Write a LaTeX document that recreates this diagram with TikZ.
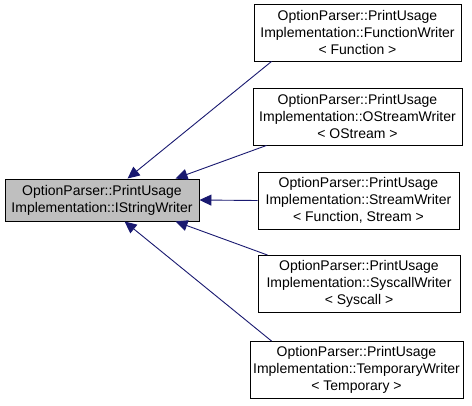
\documentclass[tikz,border=0pt]{standalone}
\usepackage{fontspec}
\setmainfont{Liberation Sans}
\usetikzlibrary{arrows.meta}
\definecolor{mblue}{RGB}{25,25,112}
\definecolor{basegray}{RGB}{191,191,191}
\tikzset{
  cls/.style = {rectangle, draw=black, fill=white, text=black, inner sep=0pt,
    align=center, minimum height=57pt, line width=0.9pt,
    font=\fontsize{14}{17}\selectfont},
  bcls/.style = {cls, fill=basegray, minimum height=42pt},
  inh/.style = {draw=mblue, line width=0.9pt,
    -{Triangle[length=12pt, width=11pt, fill=mblue]}}
}
\begin{document}
\begin{tikzpicture}[x=1pt, y=-1pt]
  \useasboundingbox (0,0) rectangle (472,405);
  \node [bcls, minimum width=194pt] (base) at (102,200)
    {OptionParser::PrintUsage\\Implementation::IStringWriter};

  \node [cls, minimum width=207pt] (fw) at (357.5,32.5)
    {OptionParser::PrintUsage\\Implementation::FunctionWriter\\< Function >};
  \node [cls, minimum width=209pt] (os) at (357.5,116.5)
    {OptionParser::PrintUsage\\Implementation::OStreamWriter\\< OStream >};
  \node [cls, minimum width=201pt] (sw) at (358.5,200.5)
    {OptionParser::PrintUsage\\Implementation::StreamWriter\\< Function, Stream >};
  \node [cls, minimum width=202pt] (sy) at (359,284)
    {OptionParser::PrintUsage\\Implementation::SyscallWriter\\< Syscall >};
  \node [cls, minimum width=213pt] (tw) at (356.5,370)
    {OptionParser::PrintUsage\\Implementation::TemporaryWriter\\< Temporary >};

  % inheritance edges
  \draw [inh] ([xshift=18pt]fw.south west) -- ([xshift=123pt]base.north west);
  \draw [inh] ([xshift=14pt]os.south west) -- ([xshift=171pt]base.north west);
  \draw [inh] (sw.west) -- (base.east);
  \draw [inh] ([xshift=10pt]sy.north west) -- ([xshift=171pt]base.south west);
  \draw [inh] ([xshift=22pt]tw.north west) -- ([xshift=120pt]base.south west);
\end{tikzpicture}
\end{document}
